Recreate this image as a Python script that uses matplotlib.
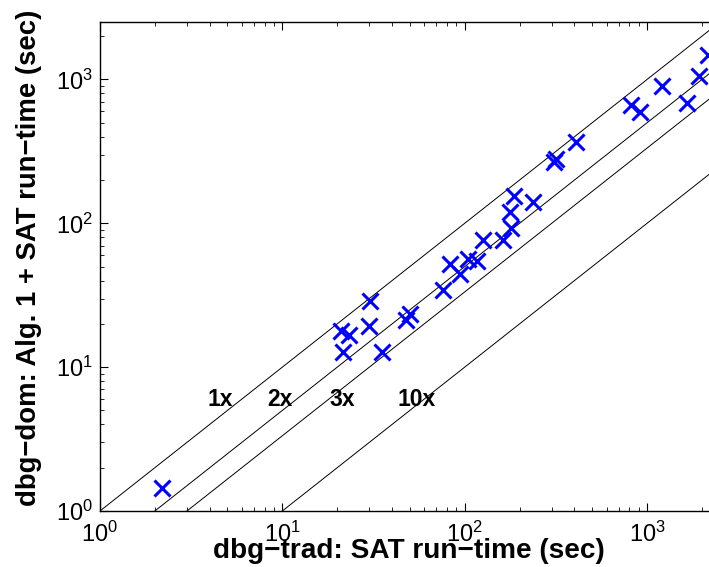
import numpy as np
import matplotlib
matplotlib.use("Agg")
import matplotlib.pyplot as plt

plt.rcParams['font.family'] = ['Liberation Sans', 'DejaVu Sans']
plt.rcParams['mathtext.fontset'] = 'custom'
plt.rcParams['mathtext.rm'] = 'Liberation Sans'

trad = [2.19, 21.0, 21.5, 23.2, 30.3, 30.0, 35.0, 47.6, 49.9, 75.7, 83.4, 94.6,
        104.8, 117.5, 126.7, 162.8, 180.4, 177.4, 185.7, 237.0, 310.0, 315.0,
        406.0, 818.0, 916.0, 1205.0, 1653.0, 1938.0, 2172.0]
dom = [1.45, 17.9, 12.8, 16.8, 28.9, 19.2, 12.8, 21.3, 23.5, 34.3, 52.3, 44.7,
       56.1, 54.8, 76.3, 76.3, 92.3, 119.0, 154.6, 140.0, 265.0, 280.0,
       364.6, 669.0, 595.0, 897.0, 687.0, 1065.0, 1490.0]

speedups = [1, 2, 3, 10]
speedup_labels = ['1x', '2x', '3x', '10x']
label_x = [4.59, 9.71, 21.2, 54.6]
label_y = 5.95

xlim = (1, 2500)
ylim = (1, 2500)

fig = plt.figure(figsize=(7.09, 5.67), dpi=100)
ax = fig.add_axes([0.141, 0.0988, 0.874, 0.862])
ax.set_xscale('log')
ax.set_yscale('log')

xs = np.logspace(0, 4, 200)
for s in speedups:
    ax.plot(xs, xs / s, color='black', lw=0.7)

ax.plot(trad, dom, linestyle='none', marker='x', color='#0000ff',
        markersize=12, markeredgewidth=2.2)

for lab, lx in zip(speedup_labels, label_x):
    ax.text(lx, label_y, lab, fontsize=16.5, fontweight='bold',
            ha='center', va='center')

ax.set_xlim(*xlim)
ax.set_ylim(*ylim)
ax.tick_params(which='both', direction='in', top=True, right=True,
               labelsize=17)
ax.tick_params(which='major', length=6)
ax.tick_params(which='minor', length=3)
ax.tick_params(axis='x', pad=8)
ax.tick_params(axis='y', pad=5)
for sp in ax.spines.values():
    sp.set_linewidth(1.0)

ax.set_xlabel('dbg\u2212trad: SAT run\u2212time (sec)', fontsize=20.2,
              fontweight='bold')
ax.set_ylabel('dbg\u2212dom: Alg. 1 + SAT run\u2212time (sec)', fontsize=19.8,
              fontweight='bold')
ax.xaxis.set_label_coords(0.498, -0.055)
ax.yaxis.set_label_coords(-0.0935, 0.517)

fig.savefig('out.png', dpi=100)
